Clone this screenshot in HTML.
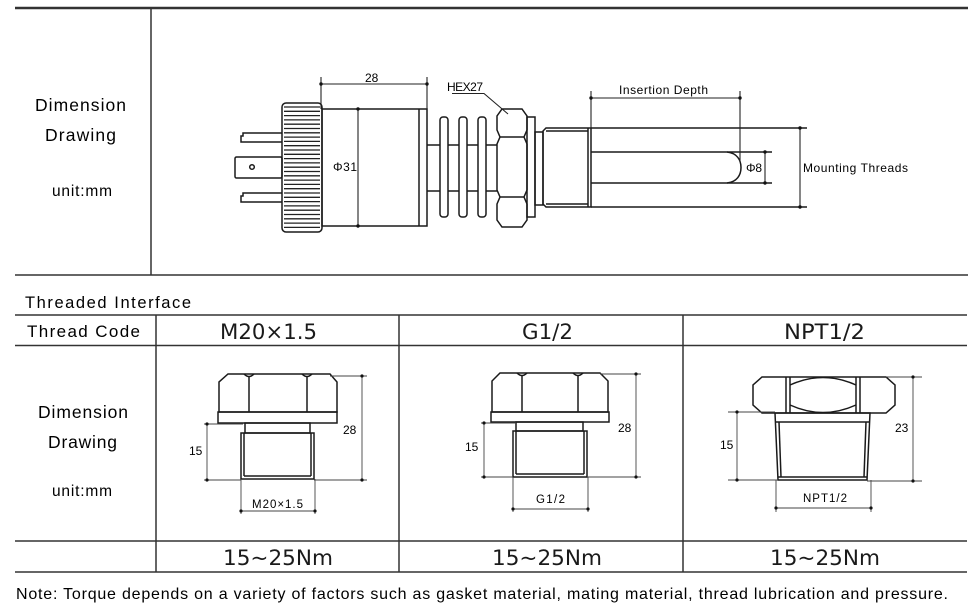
<!DOCTYPE html>
<html><head><meta charset="utf-8"><style>
html,body{margin:0;padding:0;background:#fff;}
svg{display:block;}
text{font-family:"Liberation Sans",Arial,sans-serif;fill:#000;}
.big{font-family:"DejaVu Sans","Liberation Sans",sans-serif;fill:#1a1a1a;}
</style></head><body>
<svg width="979" height="609" viewBox="0 0 979 609" xmlns="http://www.w3.org/2000/svg">
<rect width="979" height="609" fill="#fff"/>
<!-- table grid -->
<g stroke="#333" fill="none">
<line x1="15" y1="8" x2="968" y2="8" stroke-width="2.4"/>
<line x1="151" y1="8" x2="151" y2="275" stroke-width="1.5"/>
<line x1="15" y1="275" x2="968" y2="275" stroke-width="1.5"/>
<line x1="15" y1="315" x2="967" y2="315" stroke-width="1.5"/>
<line x1="15" y1="345.5" x2="967" y2="345.5" stroke-width="1.5"/>
<line x1="15" y1="541" x2="967" y2="541" stroke-width="1.5"/>
<line x1="15" y1="572" x2="967" y2="572" stroke-width="1.5"/>
<line x1="156" y1="315" x2="156" y2="572" stroke-width="1.5"/>
<line x1="399" y1="315" x2="399" y2="572" stroke-width="1.5"/>
<line x1="683" y1="315" x2="683" y2="572" stroke-width="1.5"/>
</g>
<!-- left labels -->
<text x="35" y="111" font-size="17.5" textLength="91" lengthAdjust="spacing">Dimension</text>
<text x="45" y="141" font-size="17.5" textLength="71" lengthAdjust="spacing">Drawing</text>
<text x="52" y="196" font-size="15.5" textLength="60" lengthAdjust="spacing">unit:mm</text>
<text x="25" y="308" font-size="16.5" textLength="166" lengthAdjust="spacing">Threaded Interface</text>
<text x="27" y="337" font-size="17" textLength="113" lengthAdjust="spacing">Thread Code</text>
<text x="38" y="418" font-size="17.5" textLength="90" lengthAdjust="spacing">Dimension</text>
<text x="48" y="448" font-size="17.5" textLength="69" lengthAdjust="spacing">Drawing</text>
<text x="52" y="496" font-size="15.5" textLength="60" lengthAdjust="spacing">unit:mm</text>
<!-- header codes -->
<text class="big" x="220" y="339" font-size="21.5" textLength="97" lengthAdjust="spacingAndGlyphs">M20×1.5</text>
<text class="big" x="522" y="339" font-size="21.5" textLength="51" lengthAdjust="spacingAndGlyphs">G1/2</text>
<text class="big" x="784" y="339" font-size="21.5" textLength="81" lengthAdjust="spacingAndGlyphs">NPT1/2</text>
<!-- torque -->
<text class="big" x="223" y="565" font-size="21.5" textLength="110" lengthAdjust="spacingAndGlyphs">15~25Nm</text>
<text class="big" x="492" y="565" font-size="21.5" textLength="110" lengthAdjust="spacingAndGlyphs">15~25Nm</text>
<text class="big" x="770" y="565" font-size="21.5" textLength="110" lengthAdjust="spacingAndGlyphs">15~25Nm</text>
<text x="16" y="599" font-size="16" textLength="932" lengthAdjust="spacing">Note: Torque depends on a variety of factors such as gasket material, mating material, thread lubrication and pressure.</text>

<!-- ============ TOP DRAWING ============ -->
<g stroke="#1a1a1a" fill="none" stroke-width="1.5">
 <!-- pins -->
 <path d="M282,133 H243 V136 H241 V142 H282"/>
 <rect x="235" y="157" width="47" height="21" rx="1.5"/>
 <circle cx="252" cy="167" r="2.3"/>
 <path d="M282,193 H243 V196 H241 V202 H282"/>
 <!-- knurled cap -->
 <rect x="282" y="103" width="40" height="129" rx="4"/>
</g>
<g stroke="#222" stroke-width="1.3">
 <line x1="284" y1="107" x2="320" y2="107"/><line x1="284" y1="111.3" x2="320" y2="111.3"/><line x1="284" y1="115.6" x2="320" y2="115.6"/><line x1="284" y1="119.9" x2="320" y2="119.9"/><line x1="284" y1="124.2" x2="320" y2="124.2"/><line x1="284" y1="128.5" x2="320" y2="128.5"/><line x1="284" y1="132.8" x2="320" y2="132.8"/><line x1="284" y1="137.1" x2="320" y2="137.1"/><line x1="284" y1="141.4" x2="320" y2="141.4"/><line x1="284" y1="145.7" x2="320" y2="145.7"/><line x1="284" y1="150" x2="320" y2="150"/><line x1="284" y1="154.3" x2="320" y2="154.3"/><line x1="284" y1="158.6" x2="320" y2="158.6"/><line x1="284" y1="162.9" x2="320" y2="162.9"/><line x1="284" y1="167.2" x2="320" y2="167.2"/><line x1="284" y1="171.5" x2="320" y2="171.5"/><line x1="284" y1="175.8" x2="320" y2="175.8"/><line x1="284" y1="180.1" x2="320" y2="180.1"/><line x1="284" y1="184.4" x2="320" y2="184.4"/><line x1="284" y1="188.7" x2="320" y2="188.7"/><line x1="284" y1="193" x2="320" y2="193"/><line x1="284" y1="197.3" x2="320" y2="197.3"/><line x1="284" y1="201.6" x2="320" y2="201.6"/><line x1="284" y1="205.9" x2="320" y2="205.9"/><line x1="284" y1="210.2" x2="320" y2="210.2"/><line x1="284" y1="214.5" x2="320" y2="214.5"/><line x1="284" y1="218.8" x2="320" y2="218.8"/><line x1="284" y1="223.1" x2="320" y2="223.1"/><line x1="284" y1="227.4" x2="320" y2="227.4"/>
</g>
<g stroke="#1a1a1a" fill="none" stroke-width="1.5">
 <!-- body -->
 <rect x="322" y="109" width="105" height="117"/>
 <line x1="419" y1="109" x2="419" y2="226"/>
 <!-- shaft -->
 <line x1="427" y1="145" x2="497" y2="145"/>
 <line x1="427" y1="191" x2="497" y2="191"/>
 <!-- fins -->
 <rect x="440" y="117" width="8" height="100" rx="3" fill="#fff"/>
 <rect x="459" y="117" width="8" height="100" rx="3" fill="#fff"/>
 <rect x="478" y="117" width="8" height="100" rx="3" fill="#fff"/>
 <!-- hex -->
 <path d="M502,109 H522 L527,116 V130 L524,137 L527,144 V190 L524,197 L527,204 V220 L522,227 H502 L497,220 V204 L500,197 L497,190 V144 L500,137 L497,130 V116 Z" fill="#fff"/>
 <line x1="500" y1="137" x2="524" y2="137"/>
 <line x1="500" y1="197" x2="524" y2="197"/>
 <!-- flange -->
 <rect x="527" y="117" width="8" height="100"/>
 <rect x="535" y="132" width="8" height="73"/>
 <!-- thread -->
 <path d="M546,128 H591 V207 H546 L543,204 V131 Z"/>
 <line x1="546" y1="131" x2="588" y2="131"/>
 <line x1="546" y1="204" x2="588" y2="204"/>
 <line x1="588" y1="128" x2="588" y2="207"/>
 <!-- tube -->
 <line x1="591" y1="128" x2="807" y2="128"/>
 <line x1="591" y1="207" x2="807" y2="207"/>
 <!-- probe -->
 <line x1="591" y1="152" x2="772" y2="152"/>
 <line x1="591" y1="183" x2="772" y2="183"/>
 <path d="M727,152 C737,153 741,160 741,167.5 C741,175 737,182 727,183"/>
</g>
<!-- dims top -->
<g stroke="#222" fill="none" stroke-width="1.1">
 <line x1="321" y1="77" x2="321" y2="109"/>
 <line x1="427" y1="77" x2="427" y2="109"/>
 <line x1="321" y1="84" x2="427" y2="84"/>
 <line x1="358" y1="109" x2="358" y2="226"/>
 <path d="M452,93.5 H484 L508,114"/>
 <line x1="591" y1="91" x2="591" y2="128"/>
 <line x1="740" y1="91" x2="740" y2="162"/>
 <line x1="591" y1="98" x2="740" y2="98"/>
 <line x1="765" y1="152" x2="765" y2="183"/>
 <line x1="800" y1="128" x2="800" y2="207"/>
</g>
<g fill="#111">
 <circle cx="321" cy="84" r="1.7"/><circle cx="427" cy="84" r="1.7"/>
 <circle cx="358" cy="109" r="1.7"/><circle cx="358" cy="226" r="1.7"/>
 <circle cx="591" cy="98" r="1.7"/><circle cx="740" cy="98" r="1.7"/>
 <circle cx="765" cy="152" r="1.7"/><circle cx="765" cy="183" r="1.7"/>
 <circle cx="800" cy="128" r="1.7"/><circle cx="800" cy="207" r="1.7"/>
</g>
<text x="365" y="82" font-size="12">28</text>
<text x="333" y="171" font-size="12" textLength="24" lengthAdjust="spacing">Φ31</text>
<text x="447" y="91" font-size="12" textLength="36" lengthAdjust="spacing">HEX27</text>
<text x="619" y="94" font-size="12" textLength="89" lengthAdjust="spacing">Insertion Depth</text>
<text x="746" y="172" font-size="12" textLength="16" lengthAdjust="spacing">Φ8</text>
<text x="803" y="172" font-size="12" textLength="105" lengthAdjust="spacing">Mounting Threads</text>

<!-- ============ M20 ============ -->
<g stroke="#1a1a1a" fill="none" stroke-width="1.5">
 <path d="M228,374 H330 L337,382 V412 H219 V382 Z"/>
 <path d="M244,374 Q249,379 254,374 M302,374 Q307,379 312,374"/>
 <line x1="249" y1="377" x2="249" y2="412"/>
 <line x1="307" y1="377" x2="307" y2="412"/>
 <rect x="218" y="412" width="119" height="11"/>
 <rect x="245" y="423" width="65" height="10"/>
 <rect x="241" y="433" width="73" height="46"/>
 <line x1="244" y1="433" x2="244" y2="476"/>
 <line x1="311" y1="433" x2="311" y2="476"/>
 <line x1="244" y1="476" x2="311" y2="476"/>
</g>
<g stroke="#444" fill="none" stroke-width="0.9">
 <line x1="204" y1="424" x2="243" y2="424"/>
 <line x1="204" y1="480" x2="241" y2="480"/>
 <line x1="207" y1="424" x2="207" y2="480"/>
 <line x1="330" y1="376" x2="367" y2="376"/>
 <line x1="314" y1="480" x2="367" y2="480"/>
 <line x1="362" y1="376" x2="362" y2="480"/>
 <line x1="241" y1="479" x2="241" y2="514"/>
 <line x1="315" y1="479" x2="315" y2="514"/>
 <line x1="241" y1="511" x2="315" y2="511"/>
</g>
<g fill="#111">
 <circle cx="207" cy="424" r="1.6"/><circle cx="207" cy="480" r="1.6"/>
 <circle cx="362" cy="376" r="1.6"/><circle cx="362" cy="480" r="1.6"/>
 <circle cx="241" cy="511" r="1.6"/><circle cx="315" cy="511" r="1.6"/>
</g>
<text x="189" y="455" font-size="12">15</text>
<text x="343" y="434" font-size="12">28</text>
<text x="252" y="508" font-size="11.5" textLength="51" lengthAdjust="spacing">M20×1.5</text>

<!-- ============ G1/2 ============ -->
<g stroke="#1a1a1a" fill="none" stroke-width="1.5">
 <path d="M500,373 H600 L608,381 V412 H492 V381 Z"/>
 <path d="M517,373 Q522,378 527,373 M573,373 Q578,378 583,373"/>
 <line x1="522" y1="376" x2="522" y2="412"/>
 <line x1="578" y1="376" x2="578" y2="412"/>
 <rect x="491" y="412" width="118" height="10"/>
 <rect x="516" y="422" width="67" height="9"/>
 <rect x="513" y="431" width="74" height="46"/>
 <line x1="516" y1="431" x2="516" y2="474"/>
 <line x1="584" y1="431" x2="584" y2="474"/>
 <line x1="516" y1="474" x2="584" y2="474"/>
</g>
<g stroke="#444" fill="none" stroke-width="0.9">
 <line x1="481" y1="423" x2="516" y2="423"/>
 <line x1="481" y1="477" x2="513" y2="477"/>
 <line x1="484" y1="423" x2="484" y2="477"/>
 <line x1="600" y1="374" x2="641" y2="374"/>
 <line x1="587" y1="477" x2="641" y2="477"/>
 <line x1="636" y1="374" x2="636" y2="477"/>
 <line x1="513" y1="477" x2="513" y2="512"/>
 <line x1="588" y1="477" x2="588" y2="512"/>
 <line x1="513" y1="509" x2="588" y2="509"/>
</g>
<g fill="#111">
 <circle cx="484" cy="423" r="1.6"/><circle cx="484" cy="477" r="1.6"/>
 <circle cx="636" cy="374" r="1.6"/><circle cx="636" cy="477" r="1.6"/>
 <circle cx="513" cy="509" r="1.6"/><circle cx="588" cy="509" r="1.6"/>
</g>
<text x="465" y="451" font-size="12">15</text>
<text x="618" y="432" font-size="12">28</text>
<text x="536" y="503" font-size="11.5" textLength="29" lengthAdjust="spacing">G1/2</text>

<!-- ============ NPT1/2 ============ -->
<g stroke="#1a1a1a" fill="none" stroke-width="1.5">
 <path d="M762,377 H886 L895,385 V405 L886,413 H762 L753,405 V385 Z"/>
 <line x1="786" y1="377" x2="786" y2="413"/>
 <line x1="790" y1="377" x2="790" y2="413"/>
 <line x1="856" y1="377" x2="856" y2="413"/>
 <line x1="860" y1="377" x2="860" y2="413"/>
 <path d="M790,385 Q823,370 856,385"/>
 <path d="M790,405 Q823,420 856,405"/>
 <path d="M775,413 H870 L867,480 H778 Z"/>
 <line x1="776" y1="422" x2="869" y2="422"/>
 <line x1="779" y1="422" x2="781" y2="477"/>
 <line x1="866" y1="422" x2="864" y2="477"/>
 <line x1="778" y1="477" x2="867" y2="477"/>
</g>
<g stroke="#444" fill="none" stroke-width="0.9">
 <line x1="728" y1="412" x2="775" y2="412"/>
 <line x1="728" y1="480" x2="778" y2="480"/>
 <line x1="737" y1="412" x2="737" y2="480"/>
 <line x1="886" y1="377" x2="922" y2="377"/>
 <line x1="867" y1="481" x2="922" y2="481"/>
 <line x1="913" y1="377" x2="913" y2="481"/>
 <line x1="776" y1="480" x2="776" y2="512"/>
 <line x1="871" y1="480" x2="871" y2="512"/>
 <line x1="776" y1="508" x2="871" y2="508"/>
</g>
<g fill="#111">
 <circle cx="737" cy="412" r="1.6"/><circle cx="737" cy="480" r="1.6"/>
 <circle cx="913" cy="377" r="1.6"/><circle cx="913" cy="481" r="1.6"/>
 <circle cx="776" cy="508" r="1.6"/><circle cx="871" cy="508" r="1.6"/>
</g>
<text x="720" y="449" font-size="12">15</text>
<text x="895" y="432" font-size="12">23</text>
<text x="803" y="502" font-size="11.5" textLength="44" lengthAdjust="spacing">NPT1/2</text>
</svg>
</body></html>
